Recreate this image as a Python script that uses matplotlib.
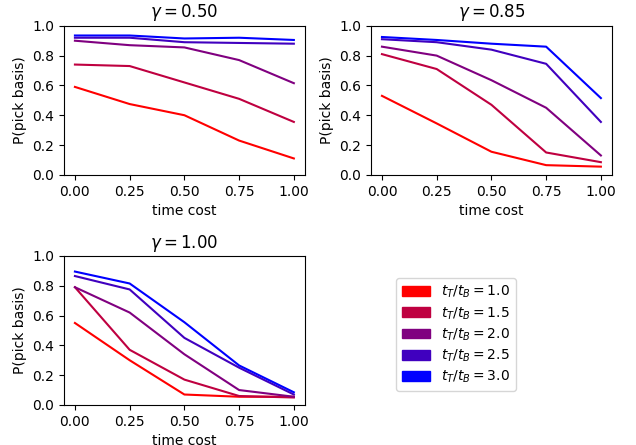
import numpy as np
import matplotlib
matplotlib.use('Agg')
import matplotlib.pyplot as plt
from matplotlib.patches import Patch

# time cost grid
cost = [0.0, 0.25, 0.5, 0.75, 1.0]
ratios = [1.0, 1.5, 2.0, 2.5, 3.0]
gammas = [0.50, 0.85, 1.00]

# P(pick basis) per gamma, one row per t_T/t_B ratio
p_g050 = [[0.59, 0.475, 0.40, 0.23, 0.11],
          [0.74, 0.73, 0.62, 0.51, 0.355],
          [0.90, 0.87, 0.855, 0.77, 0.615],
          [0.92, 0.92, 0.89, 0.885, 0.88],
          [0.935, 0.935, 0.915, 0.92, 0.905]]

p_g085 = [[0.53, 0.345, 0.155, 0.065, 0.055],
          [0.81, 0.71, 0.47, 0.15, 0.085],
          [0.86, 0.80, 0.635, 0.45, 0.13],
          [0.91, 0.89, 0.84, 0.745, 0.355],
          [0.925, 0.905, 0.88, 0.86, 0.515]]

p_g100 = [[0.55, 0.30, 0.07, 0.055, 0.055],
          [0.79, 0.37, 0.17, 0.06, 0.05],
          [0.79, 0.62, 0.34, 0.10, 0.055],
          [0.865, 0.775, 0.45, 0.25, 0.07],
          [0.895, 0.815, 0.555, 0.265, 0.085]]

panels = [p_g050, p_g085, p_g100]

# red -> blue
colors = [(1 - k / 4, 0, k / 4) for k in range(5)]

fig, axs = plt.subplots(2, 2, figsize=(6.36, 4.45), dpi=100)
axs = axs.ravel()

for i, g in enumerate(gammas):
    ax = axs[i]
    for j, r in enumerate(ratios):
        ax.plot(cost, panels[i][j], color=colors[j], lw=1.5)
    ax.set_ylim(0, 1)
    ax.set_yticks(np.arange(0, 1.01, 0.2))
    ax.set_xticks(cost)
    ax.set_title(r'$\gamma = %.2f$' % g)
    ax.set_xlabel('time cost')
    ax.set_ylabel('P(pick basis)')

axs[3].axis('off')
handles = [Patch(color=colors[j], label=r'$t_T/t_B = %.1f$' % r)
           for j, r in enumerate(ratios)]
fig.legend(handles=handles, loc='center', bbox_to_anchor=(0.717, 0.248),
           labelspacing=0.35)

fig.subplots_adjust(left=0.1006, right=0.962, top=0.942, bottom=0.09,
                    wspace=0.275, hspace=0.544)
plt.savefig('out.png', dpi=100)
